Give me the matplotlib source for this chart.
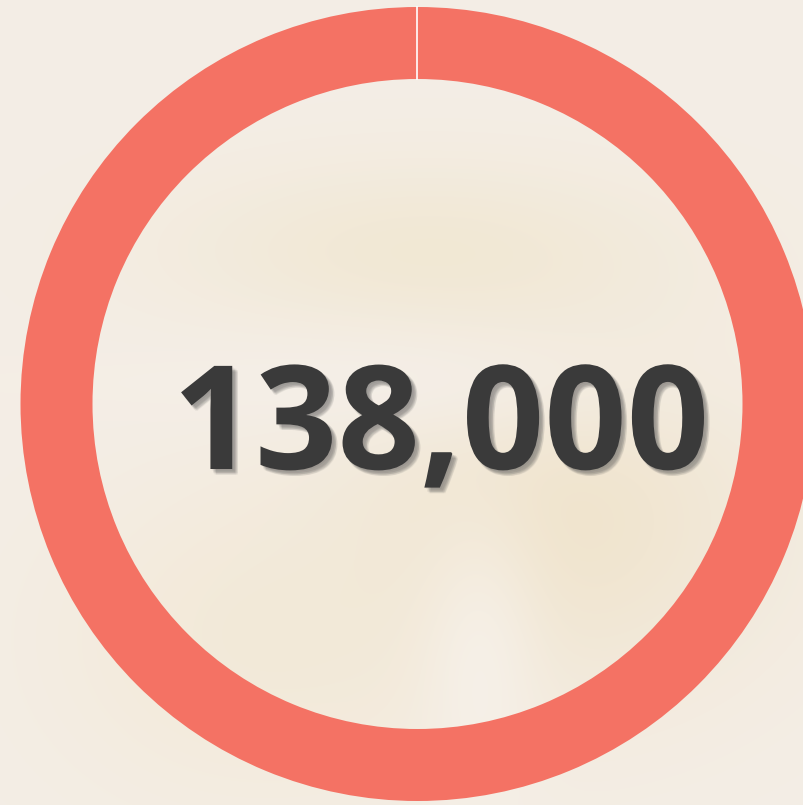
import numpy as np
import matplotlib
matplotlib.use("Agg")
import matplotlib.pyplot as plt
import matplotlib.patheffects as pe

# Data
values = [138000]
label = "138,000"
ring_color = "#F47264"

cx, cy, r_out, ring_w = 417.5, 401, 397, 72

fig = plt.figure(figsize=(8.04, 8.05), dpi=100)
ax = fig.add_axes([0, 0, 1, 1])

# soft blurred cream background
yy, xx = np.mgrid[0:805, 0:804]
bg = np.zeros((805, 804, 3))
bg[:] = np.array([244, 238, 230]) / 255.0
def blob(bx, by, sx, sy, col, a):
    w = a * np.exp(-(((xx - bx) / sx) ** 2 + ((yy - by) / sy) ** 2))
    for k in range(3):
        bg[:, :, k] = bg[:, :, k] * (1 - w) + col[k] / 255.0 * w
blob(420, 250, 260, 90, (240, 228, 200), 0.55)
blob(560, 520, 220, 180, (238, 222, 190), 0.6)
blob(250, 640, 200, 160, (242, 230, 205), 0.5)
blob(480, 660, 60, 140, (248, 244, 240), 0.6)
blob(420, 380, 250, 60, (246, 242, 240), 0.5)
ax.imshow(bg, extent=(0, 804, 0, 805), origin="upper", zorder=0, aspect="auto")

ax.pie(values, colors=[ring_color], startangle=90, counterclock=False,
       center=(cx, cy), radius=r_out, frame=True,
       wedgeprops=dict(width=ring_w, linewidth=0))
# thin white seam where the ring starts (12 o'clock)
ax.plot([cx, cx], [cy + r_out - ring_w, cy + r_out], color="white", lw=1.2, zorder=4)

ax.set_xlim(0, 804)
ax.set_ylim(0, 805)
ax.axis("off")

shadow = [pe.SimplePatchShadow(offset=(dx, dy), shadow_rgbFace="#555555", alpha=0.09)
          for dx, dy in [(1, -1), (2, -2), (3, -3), (4, -4), (2, -3), (3, -2), (4, -3), (3, -4)]]
ax.text(441, 373, label, ha="center", va="center", fontsize=104,
        fontweight="bold", family="Open Sans", color="#3A3A3A", zorder=5,
        path_effects=shadow + [pe.Normal()])

fig.savefig("out.png", dpi=100)
